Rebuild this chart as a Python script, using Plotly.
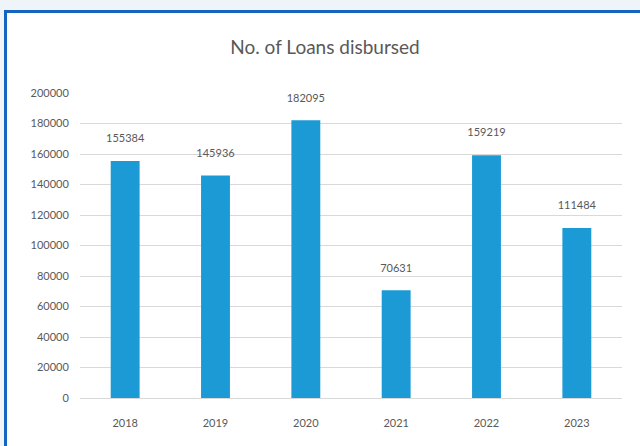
import plotly.graph_objects as go

years = ["2018", "2019", "2020", "2021", "2022", "2023"]
loans = [155384, 145936, 182095, 70631, 159219, 111484]
y_ticks = list(range(0, 200001, 20000))
title_text = "No. of Loans disbursed"

W, H = 640, 446
L, R, T, B = 80, 18, 93, 48
pw, ph = W - L - R, H - T - B

def px_x(p):
    return (p - L) / pw

def px_y(p):
    return (H - B - p) / ph

FONT = "Lato, Open Sans, sans-serif"
GREY = "#595959"

fig = go.Figure()
fig.add_trace(go.Bar(
    x=years, y=loans,
    marker=dict(color="#1c9ad6", line=dict(width=0)),
))
fig.add_trace(go.Scatter(
    x=years, y=loans, mode="markers+text",
    text=[str(v) for v in loans], textposition="top center",
    marker=dict(size=24, opacity=0),
    textfont=dict(family=FONT, size=11, color=GREY),
    cliponaxis=False, hoverinfo="skip",
))

shapes = [
    dict(type="rect", xref="paper", yref="paper", layer="below",
         x0=px_x(4), x1=px_x(W + 5), y0=px_y(H + 5), y1=px_y(10),
         fillcolor="white", line=dict(width=0)),
    dict(type="line", xref="paper", yref="paper",
         x0=px_x(5.5), x1=px_x(5.5), y0=px_y(H + 5), y1=px_y(10),
         line=dict(color="#1565c0", width=3)),
    dict(type="line", xref="paper", yref="paper",
         x0=px_x(4), x1=px_x(W + 5), y0=px_y(11.5), y1=px_y(11.5),
         line=dict(color="#1565c0", width=3)),
]

fig.update_layout(
    width=W, height=H,
    margin=dict(l=L, r=R, t=T, b=B, pad=0),
    paper_bgcolor="#eef4f8",
    plot_bgcolor="white",
    shapes=shapes,
    showlegend=False,
    title=dict(text=title_text, x=325 / W, xanchor="center",
               y=1 - 47 / H, yanchor="middle", yref="container",
               font=dict(family=FONT, size=19, color=GREY)),
    bargap=0.68,
)
fig.update_xaxes(type="category", showgrid=False, showline=False, zeroline=False,
                 ticks="outside", ticklen=15, tickcolor="rgba(0,0,0,0)",
                 tickfont=dict(family=FONT, size=11, color=GREY))
fig.update_yaxes(range=[0, 200000], tickvals=y_ticks, tickformat="d",
                 showgrid=True, gridcolor="#d9d9d9", gridwidth=1,
                 zeroline=True, zerolinecolor="#d9d9d9", zerolinewidth=1,
                 showline=False, ticks="outside", ticklen=8, tickcolor="rgba(0,0,0,0)",
                 tickfont=dict(family=FONT, size=11, color=GREY))

fig.write_html("out.html")
